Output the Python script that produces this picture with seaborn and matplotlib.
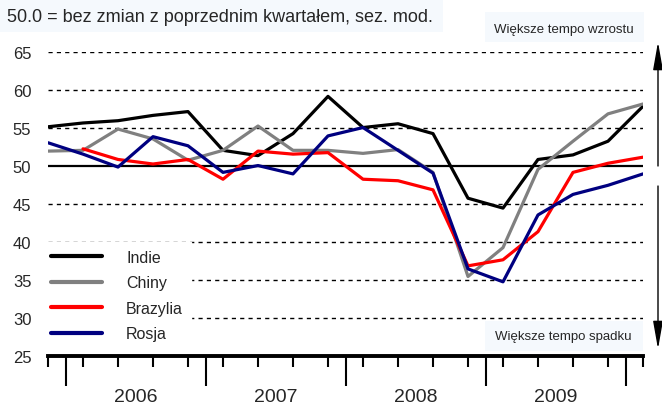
import numpy as np
import pandas as pd
import matplotlib
matplotlib.use('Agg')
import matplotlib.pyplot as plt
import seaborn as sns
from matplotlib.patches import Rectangle

# ── Dane (kwartały, 50 = bez zmian) ─────────────────────────────────
kwartaly = list(range(18))
indie = [55.2, 55.7, 56.0, 56.7, 57.2, 52.1, 51.4, 54.3, 59.2, 55.1, 55.6, 54.3,
         45.8, 44.5, 50.9, 51.5, 53.3, 57.9]
chiny = [52.0, 52.1, 54.9, 53.6, 50.8, 52.1, 55.3, 52.1, 52.1, 51.7, 52.2, 49.2,
         35.5, 39.3, 49.6, 53.3, 56.9, 58.2]
brazylia = [np.nan, 52.3, 50.9, 50.3, 50.9, 48.3, 52.0, 51.6, 51.8, 48.3, 48.1, 46.9,
            36.9, 37.7, 41.4, 49.2, 50.4, 51.2]
rosja = [53.1, 51.6, 49.9, 53.9, 52.7, 49.2, 50.1, 49.0, 54.0, 55.1, 52.1, 49.1,
         36.5, 34.8, 43.6, 46.3, 47.5, 49.0]
kraje = ['Indie', 'Chiny', 'Brazylia', 'Rosja']
kolory = {'Indie': 'black', 'Chiny': '#808080', 'Brazylia': '#ff0000', 'Rosja': '#000080'}
lata = ['2006', '2007', '2008', '2009']
granice_lat = [0.5, 4.5, 8.5, 12.5, 16.5]
siatka = [30, 35, 40, 45, 55, 60, 65]

df = pd.DataFrame({'kw': kwartaly, 'Indie': indie, 'Chiny': chiny,
                   'Brazylia': brazylia, 'Rosja': rosja})
df = df.melt(id_vars='kw', var_name='kraj', value_name='val').dropna()

sns.set_style('white')
plt.rcParams['font.family'] = ['Liberation Sans', 'DejaVu Sans']

W, H = 662, 406
fig = plt.figure(figsize=(W / 100, H / 100), dpi=100)


def px(x0, y0, x1, y1):
    # pikselowy prostokąt (od góry) -> współrzędne figury
    return [x0 / W, 1 - y1 / H, (x1 - x0) / W, (y1 - y0) / H]


ax = fig.add_axes(px(48, 53.3, 643, 357.3))

for v in siatka:
    ax.axhline(v, color='black', lw=1, ls=(0, (3, 3)), zorder=1)
ax.axhline(50, color='black', lw=1.6, zorder=1.5)

sns.lineplot(data=df, x='kw', y='val', hue='kraj', hue_order=kraje,
             palette=kolory, linewidth=2.3, sort=False, estimator=None,
             ax=ax, zorder=3)

ax.set_xlim(0, 17)
ax.set_ylim(25, 65)
ax.set_xlabel('')
ax.set_ylabel('')

for s in ['top', 'right', 'left']:
    ax.spines[s].set_visible(False)
ax.spines['bottom'].set_linewidth(2.8)
ax.spines['bottom'].set_color('black')

ax.set_xticks(kwartaly)
ax.set_xticklabels([])
ax.set_xticks(granice_lat, minor=True)
ax.tick_params(axis='x', which='both', bottom=True, color='black', direction='out')
ax.tick_params(axis='x', which='major', length=8, width=1.5)
ax.tick_params(axis='x', which='minor', length=21.6, width=1.5)
ax.set_yticks(range(25, 70, 5))
ax.tick_params(axis='y', length=0, pad=12, labelsize=12)

for i, rok in enumerate(lata):
    ax.text(2.5 + 4 * i, -0.132, rok, transform=ax.get_xaxis_transform(),
            ha='center', va='center', fontsize=14)

# legenda
handles, labels = ax.get_legend_handles_labels()
for h in handles:
    h.set_linewidth(3)
leg = ax.legend(handles, labels, loc='upper left',
                bbox_to_anchor=(43 / W, 1 - 243 / H), bbox_transform=fig.transFigure,
                borderaxespad=0, borderpad=0.5, handlelength=3.2, handletextpad=1.5,
                labelspacing=0.65, fontsize=11.5, frameon=True, fancybox=False,
                framealpha=1, facecolor='white', edgecolor='white')
leg.set_zorder(5)

# tytuł i opisy
tlo = '#f5f9fd'
fig.add_artist(Rectangle(px(0, 0, 443, 33)[:2], 443 / W, 33 / H,
                         transform=fig.transFigure, facecolor=tlo, edgecolor='none', zorder=0))
fig.text(7 / W, 1 - 17 / H, '50.0 = bez zmian z poprzednim kwartałem, sez. mod.',
         ha='left', va='center', fontsize=13)

fig.add_artist(Rectangle(px(485, 13, 644, 43)[:2], 159 / W, 30 / H,
                         transform=fig.transFigure, facecolor=tlo, edgecolor='none', zorder=0))
fig.text(564 / W, 1 - 30 / H, 'Większe tempo wzrostu', ha='center', va='center', fontsize=9.5)

fig.add_artist(Rectangle(px(485, 322, 643, 352)[:2], 158 / W, 30 / H,
                         transform=fig.transFigure, facecolor=tlo, edgecolor='none', zorder=6))
t = fig.text(563 / W, 1 - 337 / H, 'Większe tempo spadku', ha='center', va='center', fontsize=9.5)
t.set_zorder(7)

# strzałki
styl = dict(arrowstyle='-|>,head_length=1.7,head_width=0.3', lw=1, color='black',
            mutation_scale=10, shrinkA=0, shrinkB=0)
ax.annotate('', xy=(658, H - 43), xycoords='figure pixels',
            xytext=(658, H - 167), textcoords='figure pixels', arrowprops=styl)
ax.annotate('', xy=(658, H - 350), xycoords='figure pixels',
            xytext=(658, H - 187), textcoords='figure pixels', arrowprops=styl)

fig.savefig('out.png', dpi=100)
